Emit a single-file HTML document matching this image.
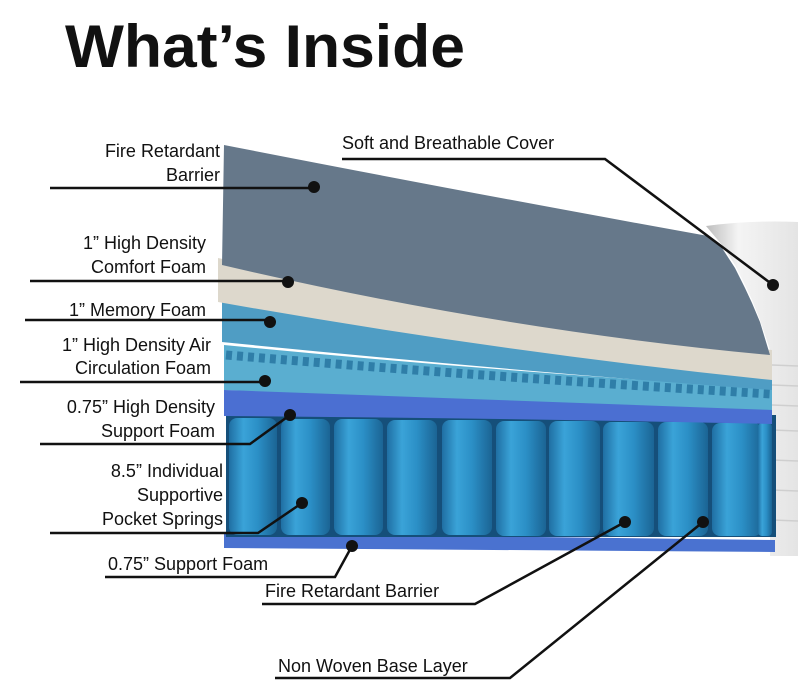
<!DOCTYPE html>
<html><head><meta charset="utf-8"><style>
html,body{margin:0;padding:0;background:#fff;}
svg{display:block;}
text{font-family:"Liberation Sans",sans-serif;fill:#111;}
</style></head><body>
<svg width="798" height="700" viewBox="0 0 798 700" xmlns="http://www.w3.org/2000/svg">
<defs>
<linearGradient id="spr" x1="0" x2="1" y1="0" y2="0">
<stop offset="0" stop-color="#1f6fa3"/><stop offset="0.3" stop-color="#3aa3d8"/><stop offset="0.6" stop-color="#2b8fc6"/><stop offset="1" stop-color="#1b6494"/>
</linearGradient>
<linearGradient id="cov" x1="0" x2="1"><stop offset="0" stop-color="#bdbdbd"/><stop offset="0.35" stop-color="#f4f4f4"/><stop offset="1" stop-color="#e4e4e4"/></linearGradient>
</defs>
<text x="65" y="67" font-size="60" font-weight="bold" textLength="400" lengthAdjust="spacingAndGlyphs">What’s Inside</text>

<!-- white cover right -->
<path d="M706 226 Q750 220 798 222 L798 556 L770 556 L770 350 L760 320 L752 300 L745 285 L735 265 L722 245Z" fill="url(#cov)"/>
<g stroke="#cfcfcf" stroke-width="1.5">
<line x1="772" y1="365" x2="798" y2="366"/><line x1="772" y1="385" x2="798" y2="386"/>
<line x1="772" y1="405" x2="798" y2="406"/><line x1="772" y1="430" x2="798" y2="431"/>
<line x1="772" y1="460" x2="798" y2="461"/><line x1="772" y1="490" x2="798" y2="491"/>
<line x1="772" y1="520" x2="798" y2="521"/>
</g>
<!-- bottom foam -->
<path d="M224 533 L775 540 L775 552 L224 548Z" fill="#4a72d0"/>
<!-- springs bg -->
<rect x="226" y="415" width="550" height="122" fill="#154f7a"/>
<g fill="url(#spr)">
<rect x="229" y="418" width="48" height="117" rx="8"/>
<rect x="281" y="419" width="49" height="116" rx="8"/>
<rect x="334" y="419" width="49" height="116" rx="8"/>
<rect x="387" y="420" width="50" height="115" rx="8"/>
<rect x="442" y="420" width="50" height="115" rx="8"/>
<rect x="496" y="421" width="50" height="115" rx="8"/>
<rect x="549" y="421" width="51" height="115" rx="8"/>
<rect x="603" y="422" width="51" height="114" rx="8"/>
<rect x="658" y="422" width="50" height="114" rx="8"/>
<rect x="712" y="423" width="50" height="113" rx="8"/>
<rect x="758" y="423" width="14" height="113" rx="4"/>
</g>
<!-- support foam -->
<path d="M224 390 Q500 395 772 402 L772 424 Q500 418 224 416Z" fill="#4b6fd2"/>
<!-- air circulation -->
<path d="M224 345 Q500 372 772 388 L772 410 Q500 400 224 390Z" fill="#5aaed0"/>
<path d="M226 355 Q500 378 772 394" stroke="#2f7ea8" stroke-width="9" stroke-dasharray="6 5" fill="none"/>
<!-- memory foam -->
<path d="M222 300 Q500 345 772 372 L772 390 Q500 370 222 342Z" fill="#4f9dc4"/>
<!-- comfort foam cream -->
<path d="M218 258 Q500 318 772 350 L772 380 Q500 352 218 302Z" fill="#ddd8cc"/>
<!-- gray top -->
<path d="M224 145 Q480 195 708 236 L722 248 L735 268 L745 288 L752 303 L760 322 L770 355 Q500 330 222 265Z" fill="#66788a"/>

<g stroke="#111" stroke-width="2.5" fill="none">
<path d="M50 188 H314"/>
<path d="M30 281 H288"/>
<path d="M25 320 H270"/>
<path d="M20 382 H265"/>
<path d="M40 444 H250 L290 415"/>
<path d="M50 533 H258 L302 503"/>
<path d="M105 577 H335 L352 546"/>
<path d="M262 604 H475 L625 522"/>
<path d="M275 678 H510 L703 522"/>
<path d="M342 159 H605 L773 285"/>
</g>
<g fill="#111">
<circle cx="314" cy="187" r="6"/><circle cx="288" cy="282" r="6"/><circle cx="270" cy="322" r="6"/>
<circle cx="265" cy="381" r="6"/><circle cx="290" cy="415" r="6"/><circle cx="302" cy="503" r="6"/>
<circle cx="352" cy="546" r="6"/><circle cx="625" cy="522" r="6"/><circle cx="703" cy="522" r="6"/>
<circle cx="773" cy="285" r="6"/>
</g>
<g font-size="18" text-anchor="end">
<text x="220" y="157">Fire Retardant</text>
<text x="220" y="181">Barrier</text>
<text x="206" y="249">1” High Density</text>
<text x="206" y="273">Comfort Foam</text>
<text x="206" y="316">1” Memory Foam</text>
<text x="211" y="351">1” High Density Air</text>
<text x="211" y="374">Circulation Foam</text>
<text x="215" y="413">0.75” High Density</text>
<text x="215" y="437">Support Foam</text>
<text x="223" y="477">8.5” Individual</text>
<text x="223" y="501">Supportive</text>
<text x="223" y="525">Pocket Springs</text>
</g>
<g font-size="18">
<text x="342" y="149">Soft and Breathable Cover</text>
<text x="108" y="570">0.75” Support Foam</text>
<text x="265" y="597">Fire Retardant Barrier</text>
<text x="278" y="672">Non Woven Base Layer</text>
</g>
</svg>
</body></html>
